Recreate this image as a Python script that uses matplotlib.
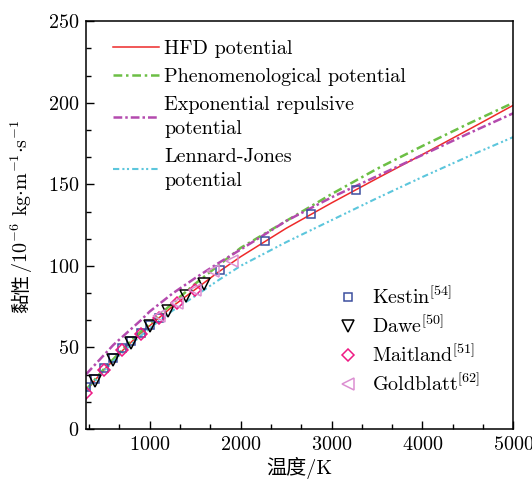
import matplotlib
matplotlib.use("Agg")
import matplotlib.pyplot as plt
from matplotlib.ticker import MultipleLocator

plt.rcParams['font.family'] = ['cmr10', 'Noto Sans CJK SC', 'DejaVu Sans']
plt.rcParams['mathtext.fontset'] = 'cm'
plt.rcParams['axes.formatter.use_mathtext'] = True
plt.rcParams['axes.unicode_minus'] = False

# ---- data ----
T_curve = [300, 400, 500, 600, 700, 800, 900, 1000, 1250, 1500, 1750, 2000,
           2500, 3000, 3500, 4000, 4500, 5000]
hfd = [23.3, 30, 36.4, 42, 48, 53.4, 58.6, 63.3, 75.1, 85.5, 96, 105.6,
       123, 138.6, 153.6, 168.3, 183.3, 198.5]
phen = [24, 30.5, 37, 42.8, 48.8, 54.3, 59.6, 64.5, 77, 89, 100, 111,
        127.5, 144, 159.5, 173.5, 187, 200]
expo = [33.5, 39.5, 45.5, 51.5, 56.5, 61.5, 66.5, 72, 83, 92.5, 101.5, 110,
        127.5, 142, 155, 168, 181, 193.6]
lj = [23, 29.5, 35.8, 41.5, 47, 52, 57, 61.8, 72.5, 81.5, 91, 100,
      114.5, 128, 141.5, 154.5, 167, 179]

T_kestin = [300, 400, 500, 600, 700, 800, 900, 1000, 1100, 1773, 2273, 2773, 3273]
v_kestin = [25.5, 30.5, 37.5, 43.5, 49.5, 54, 59, 63.8, 68.2, 97.2, 115.5, 131.8, 146.7]
T_dawe = [400, 600, 800, 1000, 1200, 1400, 1600]
v_dawe = [29.3, 42, 53, 63, 72.3, 81.3, 89]
T_maitland = [300, 500, 700, 900, 1100, 1300, 1500]
v_maitland = [22, 36, 48.3, 58.5, 68.3, 77.2, 85]
T_gold = [1100, 1300, 1500, 1700, 1900]
v_gold = [69, 77, 85, 97, 103]

line_labels = ['HFD potential', 'Phenomenological potential',
               'Exponential repulsive\npotential', 'Lennard-Jones\npotential']
data_labels = ['Kestin$^{[54]}$', 'Dawe$^{[50]}$', 'Maitland$^{[51]}$',
               'Goldblatt$^{[62]}$']
xlabel_text = '温度/K'
ylabel_cjk = '黏性'
ylabel_math = '/10$^{-6}$ kg$\\cdot$m$^{-1}$$\\cdot$s$^{-1}$'

FS = 14.5

fig = plt.figure(figsize=(5.32, 4.82), dpi=100)
ax = fig.add_axes([0.1617, 0.110, 0.8033, 0.846])

l1, = ax.plot(T_curve, hfd, color='#ee2a2a', lw=1.1, label=line_labels[0])
l2, = ax.plot(T_curve, phen, color='#6cbf45', lw=1.8, dashes=(3.5, 1.5, 1, 1.5),
              label=line_labels[1])
l3, = ax.plot(T_curve, expo, color='#b44aae', lw=1.8, dashes=(3.5, 1.2, 1, 1.2),
              label=line_labels[2])
l4, = ax.plot(T_curve, lj, color='#5cc6dc', lw=1.5, dashes=(3, 1.5, 1, 1.2, 1, 1.5),
              label=line_labels[3])

m1, = ax.plot(T_kestin, v_kestin, ls='none', marker='s', ms=6, mfc='none',
              mec='#3d4f9f', mew=1.1, label=data_labels[0])
m2, = ax.plot(T_dawe, v_dawe, ls='none', marker='v', ms=8, mfc='none',
              mec='black', mew=1.1, label=data_labels[1])
m3, = ax.plot(T_maitland, v_maitland, ls='none', marker='D', ms=6.5, mfc='none',
              mec='#ee1a84', mew=1.1, label=data_labels[2])
m4, = ax.plot(T_gold, v_gold, ls='none', marker='<', ms=8.5, mfc='none',
              mec='#dc8fd2', mew=1.1, label=data_labels[3])

ax.set_xlim(300, 5000)
ax.set_ylim(0, 250)
ax.xaxis.set_major_locator(MultipleLocator(1000))
ax.xaxis.set_minor_locator(MultipleLocator(1000 / 3))
ax.yaxis.set_major_locator(MultipleLocator(50))
ax.yaxis.set_minor_locator(MultipleLocator(50 / 3))
ax.tick_params(which='both', direction='in', top=False, right=False,
               labelsize=FS, width=1.0)
ax.tick_params(which='major', length=6, pad=5)
ax.tick_params(which='minor', length=3.5)
for s in ax.spines.values():
    s.set_linewidth(1.1)

ax.set_xlabel(xlabel_text, fontsize=FS, labelpad=2)

# y label: CJK part + math part stacked along the rotated direction
W, H = 532, 482
t1 = fig.text(22 / W, (H - 313) / H, ylabel_cjk, rotation=90, ha='center',
              va='bottom', fontsize=FS - 0.5, family=['Noto Sans CJK SC'])
fig.canvas.draw()
bb = t1.get_window_extent()
fig.text(22 / W, bb.y1 / H + 1 / H, ylabel_math, rotation=90, ha='center',
         va='bottom', fontsize=FS)

leg1 = ax.legend(handles=[l1, l2, l3, l4], loc='upper left',
                 bbox_to_anchor=(0.063, 0.955), frameon=False, fontsize=FS,
                 borderpad=0, borderaxespad=0, handlelength=2.3,
                 handletextpad=0.25, labelspacing=0.5)
for t in leg1.get_texts():
    t.set_linespacing(1.45)
ax.add_artist(leg1)
ax.legend(handles=[m1, m2, m3, m4], loc='upper left',
          bbox_to_anchor=(0.59, 0.352), frameon=False, fontsize=FS,
          borderpad=0, borderaxespad=0, handlelength=1.0,
          handletextpad=0.7, labelspacing=0.35)

fig.savefig('out.png', dpi=100)
